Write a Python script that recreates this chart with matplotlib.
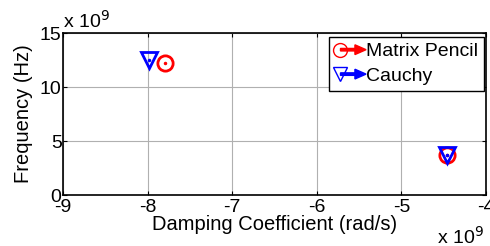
import matplotlib
matplotlib.use("Agg")
import matplotlib.pyplot as plt
from matplotlib.lines import Line2D
from matplotlib.patches import FancyArrow
from matplotlib.legend_handler import HandlerBase

plt.rcParams['font.family'] = ['Liberation Sans', 'DejaVu Sans']
FS = 14
LFS = 14.5

mp_damp = [-7.8, -4.46]
mp_freq = [12.25, 3.7]
cy_damp = [-7.98, -4.46]
cy_freq = [12.5, 3.75]
xticks = [-9, -8, -7, -6, -5, -4]
yticks = [0, 5, 10, 15]

fig = plt.figure(figsize=(4.9, 2.46), dpi=100)
ax = fig.add_axes([63/490, 1-195/246, (486-63)/490, (195-33)/246])

ax.plot(mp_damp, mp_freq, linestyle='none', marker='o', mfc='none', mec='red', ms=11, mew=2)
ax.plot(mp_damp, mp_freq, linestyle='none', marker='.', color='red', ms=3)
ax.plot(cy_damp, cy_freq, linestyle='none', marker='v', mfc='none', mec='blue', ms=12, mew=2)
ax.plot(cy_damp, cy_freq, linestyle='none', marker='.', color='blue', ms=3)

ax.set_xlim(-9, -4)
ax.set_ylim(0, 15)
ax.set_xticks(xticks)
ax.set_yticks(yticks)
ax.set_xticklabels([str(t) for t in xticks])
ax.set_yticklabels([str(t) for t in yticks])
ax.tick_params(direction='in', labelsize=FS, length=3, width=0.8, top=True, right=True)
ax.tick_params(axis='x', pad=3)
ax.tick_params(axis='y', pad=1)
ax.grid(True, color='#b0b0b0', linewidth=0.8)
for s in ax.spines.values():
    s.set_linewidth(1.2)
ax.set_xlabel('Damping Coefficient (rad/s)', fontsize=LFS, labelpad=-1)
ax.set_ylabel('Frequency (Hz)', fontsize=LFS, labelpad=5)

fig.text(63/490, 1-21/246, r'x 10$^{9}$', fontsize=FS, ha='left', va='center')
fig.text(437/490, 1-237/246, r'x 10$^{9}$', fontsize=FS, ha='left', va='center')


class ArrowHandler(HandlerBase):
    def __init__(self, color, marker):
        super().__init__()
        self.color = color
        self.marker = marker

    def create_artists(self, legend, orig_handle, xdescent, ydescent, width, height, fontsize, trans):
        y = height / 2 - ydescent
        m = Line2D([0 - xdescent + 4], [y], marker=self.marker, mfc='none', mec=self.color,
                   ms=10, mew=1, linestyle='none', transform=trans)
        arr = FancyArrow(4 - xdescent, y, width - 4, 0, width=1.8, head_width=7, head_length=8,
                         length_includes_head=True, color=self.color, transform=trans)
        return [m, arr]


h1 = Line2D([], [], color='red')
h2 = Line2D([], [], color='blue')
leg = ax.legend([h1, h2], ['Matrix Pencil', 'Cauchy'], loc='upper right',
                bbox_to_anchor=(0.995, 0.975), fontsize=FS, handlelength=1.6,
                handletextpad=0.0, borderpad=0.3, labelspacing=0.35, borderaxespad=0,
                fancybox=False, framealpha=1, edgecolor='black',
                handler_map={h1: ArrowHandler('red', 'o'), h2: ArrowHandler('blue', 'v')})
leg.get_frame().set_linewidth(1.0)

fig.savefig('out.png', dpi=100)
